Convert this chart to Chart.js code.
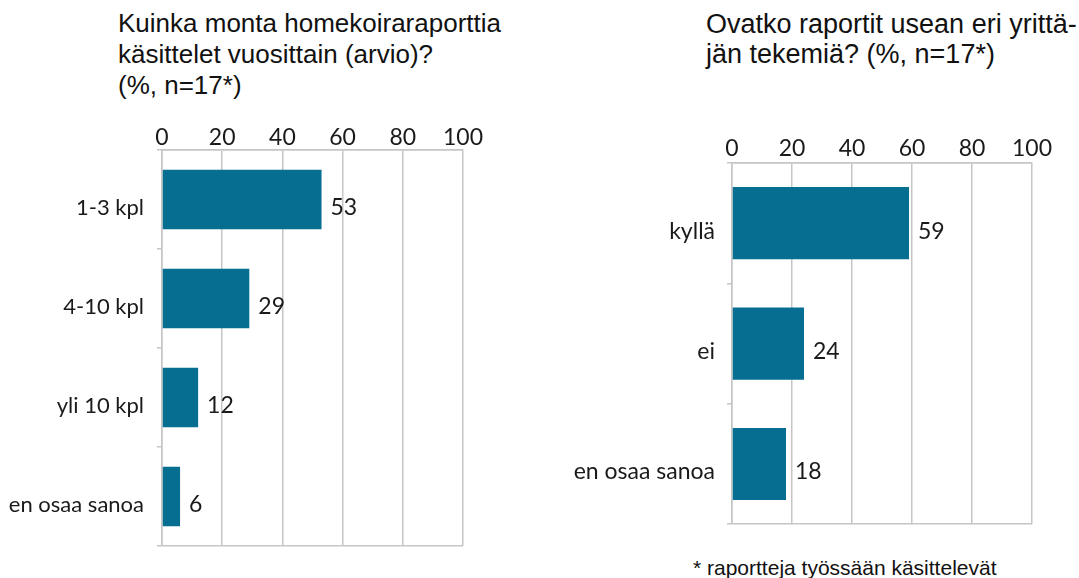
<!DOCTYPE html>
<html lang="fi">
<head>
<meta charset="utf-8">
<title>Homekoiraraportit</title>
<script src="https://cdn.jsdelivr.net/npm/chart.js@4/dist/chart.umd.min.js"></script>
<style>
  html, body { margin: 0; padding: 0; background: #fff; }
  #page { position: relative; width: 1079px; height: 578px; overflow: hidden; }
  canvas { position: absolute; }
  .title, .note { position: absolute; font-family: "Liberation Sans", Arial, sans-serif; color: #111; white-space: nowrap; }
  #titleLeft { left: 118px; top: 8px; font-size: 26px; line-height: 31px; }
  #titleRight { left: 706px; top: 9px; font-size: 27px; line-height: 30px; }
  #note { left: 693px; top: 557px; font-size: 21px; line-height: 21px; }
</style>
</head>
<body>
<div id="page">
  <div class="title" id="titleLeft">Kuinka monta homekoiraraporttia<br>käsittelet vuosittain (arvio)?<br>(%, n=17*)</div>
  <div class="title" id="titleRight">Ovatko raportit usean eri yrittä-<br>jän tekemiä? (%, n=17*)</div>
  <canvas id="chartLeft" width="520" height="478" style="left:0px;top:100px"></canvas>
  <canvas id="chartRight" width="519" height="440" style="left:560px;top:110px"></canvas>
  <div class="note" id="note">* raportteja työssään käsittelevät</div>
</div>
<script>
// Data
const leftCategories = ["1-3 kpl", "4-10 kpl", "yli 10 kpl", "en osaa sanoa"];
const leftValues = [53, 29, 12, 6];
const rightCategories = ["kyllä", "ei", "en osaa sanoa"];
const rightValues = [59, 24, 18];
const axisMin = 0;
const axisMax = 100;
const axisStep = 20;

const barColor = "#066f91";
const lineColor = "#c6c6c6";
const textColor = "#1a1a1a";

Chart.defaults.font.family = "Lato, 'Open Sans', sans-serif";
Chart.defaults.color = textColor;

// Writes the value next to each bar
const valueLabels = {
  id: "valueLabels",
  afterDatasetsDraw(chart, args, opts) {
    const ctx = chart.ctx;
    const meta = chart.getDatasetMeta(0);
    const values = chart.data.datasets[0].data;
    ctx.save();
    ctx.font = opts.size + "px Lato";
    ctx.fillStyle = textColor;
    ctx.textAlign = "left";
    ctx.textBaseline = "middle";
    meta.data.forEach((bar, i) => {
      ctx.fillText(String(values[i]), bar.x + 9, bar.y + opts.offset);
    });
    ctx.restore();
  }
};

// Only the outer category lines (top and bottom) run across the plot
function frameLineColor(c) {
  if (c.index === 0 || c.index === undefined) return lineColor;
  return "rgba(0,0,0,0)";
}

function makeChart(canvasId, categories, values, cfg) {
  return new Chart(document.getElementById(canvasId), {
    type: "bar",
    data: {
      labels: categories,
      datasets: [{
        data: values,
        backgroundColor: barColor,
        borderWidth: 0,
        categoryPercentage: 1,
        barPercentage: 0.6,
      }],
    },
    plugins: [valueLabels],
    options: {
      indexAxis: "y",
      responsive: false,
      animation: false,
      layout: { padding: cfg.padding },
      plugins: {
        legend: { display: false },
        tooltip: { enabled: false },
        valueLabels: { size: cfg.valueSize, offset: cfg.labelOffset },
      },
      scales: {
        x: {
          position: "top",
          min: axisMin,
          max: axisMax,
          afterFit: (scale) => { scale.height = cfg.xHeight; },
          ticks: {
            stepSize: axisStep,
            autoSkip: false,
            padding: cfg.xPad,
            font: { size: cfg.tickSize, lineHeight: 1 },
            color: textColor,
          },
          grid: { color: lineColor, lineWidth: 1.5, drawTicks: false },
          border: { display: true, color: lineColor, width: 1.5 },
        },
        y: {
          afterFit: (scale) => { scale.width = cfg.yWidth; },
          ticks: {
            padding: cfg.yPad,
            labelOffset: cfg.labelOffset,
            font: { size: cfg.catSize },
            color: textColor,
          },
          grid: {
            offset: true,
            lineWidth: 1.5,
            tickLength: 5,
            tickWidth: 1.5,
            tickColor: lineColor,
            color: frameLineColor,
          },
          border: { display: true, color: lineColor, width: 1.5 },
        },
      },
    },
  });
}

makeChart("chartLeft", leftCategories, leftValues, {
  padding: { left: 0, top: 0, right: 57, bottom: 32 },
  xHeight: 50,
  yWidth: 162,
  xPad: 1,
  yPad: 13,
  tickSize: 23,
  catSize: 22,
  valueSize: 23,
  labelOffset: 8,
});

makeChart("chartRight", rightCategories, rightValues, {
  padding: { left: 0, top: 0, right: 47, bottom: 10 },
  xHeight: 53,
  yWidth: 172,
  xPad: 3,
  yPad: 12,
  tickSize: 23,
  catSize: 23,
  valueSize: 23,
  labelOffset: 8,
});
</script>
</body>
</html>
